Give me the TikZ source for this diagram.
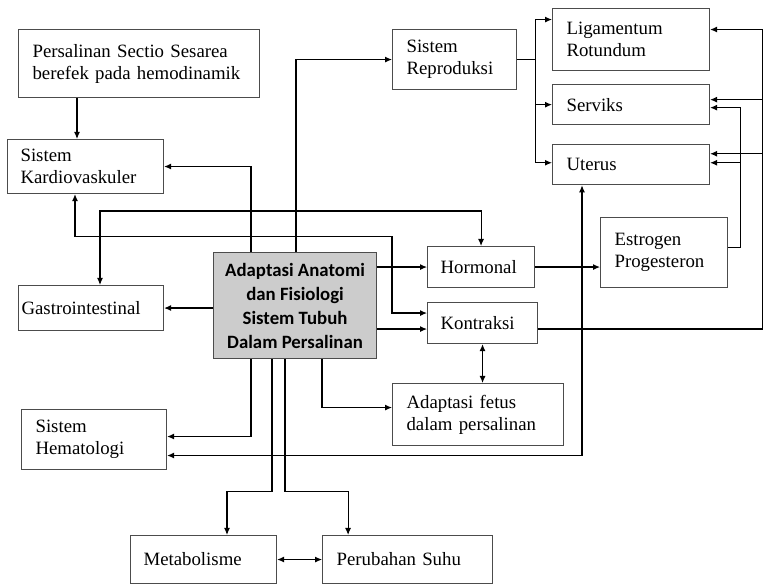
\documentclass[tikz,border=0pt]{standalone}
\usepackage{fontspec}
\setmainfont{Liberation Serif}
\newfontfamily\carlito{Carlito}
\usetikzlibrary{arrows.meta}
\usetikzlibrary{positioning}
\tikzstyle{boxnode}=[draw=black!70, rectangle, anchor=north west, align=left,
					inner xsep=14pt, inner ysep=0pt, font=\fontsize{18.8}{22}\selectfont]

\begin{document}
\begin{tikzpicture}[x=1pt, y=-1pt, >={Latex[length=7pt,width=6pt]}, line width=1.1pt,
 centernode/.style={rectangle, draw=black!70, fill=black!20, anchor=north west, align=center, inner sep=0pt, minimum width=163pt, minimum height=106pt, font=\carlito\bfseries\fontsize{18.8}{24}\selectfont}
 ]
 \useasboundingbox (0,0) rectangle (764,585);

 %Nodes
 \node[centernode]      (adaptasi)     at (213,252) {Adaptasi Anatomi\\dan Fisiologi\\Sistem Tubuh\\Dalam Persalinan};

 \node[boxnode, minimum width=241pt, minimum height=68pt, text width=213pt] (persalinan) at (18,29) {Persalinan Sectio Sesarea\\berefek pada hemodinamik};
 \node[boxnode, minimum width=156pt, minimum height=54pt, text width=130pt, inner xsep=13pt] (kardio) at (7,139) {Sistem\\Kardiovaskuler};
 \node[boxnode, minimum width=145pt, minimum height=45pt, text width=139pt, inner xsep=3pt] (gastro) at (18,285) {Gastrointestinal};
 \node[boxnode, minimum width=145pt, minimum height=60pt, text width=117pt] (hemato) at (21,409) {Sistem\\Hematologi};
 \node[boxnode, minimum width=146pt, minimum height=48pt, text width=120pt, inner xsep=13pt] (metabolisme) at (130,535) {Metabolisme};
 \node[boxnode, minimum width=170pt, minimum height=48pt, text width=142pt] (suhu) [right=45pt of metabolisme] {Perubahan Suhu};

 \node[boxnode, minimum width=124pt, minimum height=60pt, text width=96pt] (reproduksi) at (392,29) {Sistem\\Reproduksi};
 \node[boxnode, minimum width=157pt, minimum height=62pt, text width=129pt] (ligamentum) at (552,8) {Ligamentum\\Rotundum};
 \node[boxnode, minimum width=157pt, minimum height=40pt, text width=129pt] (serviks) [below=13pt of ligamentum] {Serviks};
 \node[boxnode, minimum width=157pt, minimum height=40pt, text width=129pt] (uterus) [below=19pt of serviks] {Uterus};
 \node[boxnode, minimum width=127pt, minimum height=70pt, text width=99pt] (estrogen) at (600,217) {Estrogen\\Progesteron};
 \node[boxnode, minimum width=107pt, minimum height=41pt, text width=81pt, inner xsep=13pt] (hormonal) at (427,246) {Hormonal};
 \node[boxnode, minimum width=110pt, minimum height=41pt, text width=84pt, inner xsep=13pt] (kontraksi) at (427,302) {Kontraksi};
 \node[boxnode, minimum width=171pt, minimum height=62pt, text width=143pt] (fetus) at (392,383) {Adaptasi fetus\\dalam persalinan};

 %Lines
 \draw[->] ([xshift=59]persalinan.south west) -- ([xshift=59]persalinan.south west |- kardio.north);
 \draw[->] ([xshift=38]adaptasi.north west) |- (kardio.east);
 \draw[->] ([xshift=83]adaptasi.north west) |- (reproduksi.west);
 \draw[<->] ([xshift=82]gastro.north west) -- ++(0,-74) -| (hormonal.north);
 \draw[<->] ([xshift=68]kardio.south west) -- ++(0,42) -| ([xshift=-35,yshift=10]kontraksi.west) -- ([yshift=10]kontraksi.west);
 \draw[->] (adaptasi.east |- hormonal.west) -- (hormonal.west);
 \draw[->] ([yshift=-6]adaptasi.east |- kontraksi.west) -- ([yshift=-6]kontraksi.west);
 \draw[->] (adaptasi.west |- gastro.east) -- (gastro.east);
 \draw[->] (hormonal.east) -- (estrogen.west |- hormonal.east);
 \draw[<->] ([yshift=-16]hemato.east) -| ([xshift=30]uterus.south west);

 \draw[->] ([yshift=-6]kontraksi.east) -| ([xshift=52,yshift=10]ligamentum.east) -- ([yshift=10]ligamentum.east);
 \draw[->] ([xshift=52,yshift=5]serviks.east) -- ([yshift=5]serviks.east);
 \draw[->] ([xshift=52,yshift=11]uterus.east) -- ([yshift=11]uterus.east);
 \draw[->] ([yshift=5]estrogen.east) -| ([xshift=30,yshift=-3]serviks.east) -- ([yshift=-3]serviks.east);
 \draw[->] ([xshift=30,yshift=2]uterus.east) -- ([yshift=2]uterus.east);

 \draw[->] (reproduksi.east) -- ++(18,0) |- ([yshift=20]ligamentum.west);
 \draw[->] (reproduksi.east) -- ++(18,0) |- (serviks.west);
 \draw[->] (reproduksi.east) -- ++(18,0) |- ([yshift=2]uterus.west);

 \draw[<->] (kontraksi.south) -- (kontraksi.south |- fetus.north);
 \draw[->] ([xshift=109]adaptasi.south west) |- ([yshift=7]fetus.west);
 \draw[->] ([xshift=38]adaptasi.south west) |- ([yshift=3]hemato.east);
 \draw[->] ([xshift=59]adaptasi.south west) -- ++(0,132) -| ([xshift=97]metabolisme.north west);
 \draw[->] ([xshift=72]adaptasi.south west) -- ++(0,132) -| ([xshift=26]suhu.north west);
 \draw[<->] (metabolisme.east) -- (suhu.west);
\end{tikzpicture}
\end{document}
